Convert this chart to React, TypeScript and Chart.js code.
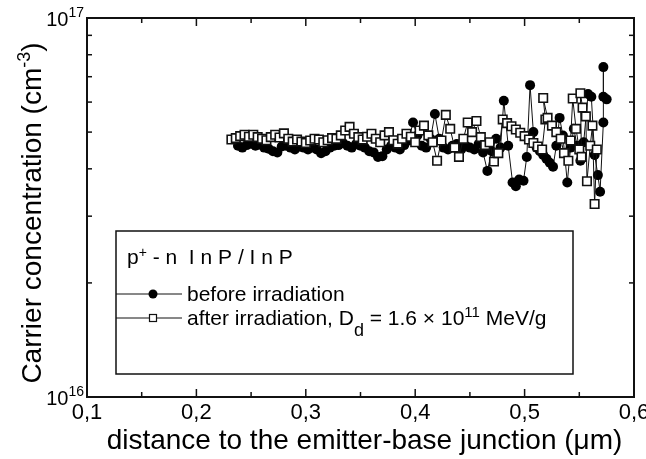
import React, { useEffect, useRef } from 'react';
import { Chart, registerables } from 'chart.js';

Chart.register(...registerables);

// before irradiation (filled circles), x in µm, y in units of 1e16 cm^-3
const xBefore = [
  0.238, 0.242, 0.246, 0.25, 0.254, 0.258, 0.262, 0.266, 0.27, 0.274,
  0.278, 0.282, 0.286, 0.29, 0.294, 0.298, 0.302, 0.306, 0.31, 0.314,
  0.318, 0.322, 0.326, 0.33, 0.334, 0.338, 0.342, 0.346, 0.35, 0.354,
  0.358, 0.362, 0.366, 0.37, 0.374, 0.378, 0.382, 0.386, 0.39, 0.394,
  0.398, 0.402, 0.406, 0.41, 0.414, 0.418, 0.422, 0.426, 0.43, 0.434,
  0.438, 0.442, 0.446, 0.45, 0.454, 0.458, 0.462,
  0.466, 0.47, 0.474, 0.478, 0.481, 0.485, 0.489, 0.492, 0.495, 0.499,
  0.502, 0.505, 0.508, 0.511, 0.514, 0.517, 0.52, 0.523, 0.526, 0.529,
  0.532, 0.535, 0.539, 0.542, 0.545, 0.548, 0.551, 0.554, 0.558, 0.561,
  0.564, 0.567, 0.569, 0.572, 0.572, 0.572, 0.575,
];
const yBefore = [
  4.6, 4.55, 4.62, 4.66, 4.6, 4.64, 4.55, 4.52, 4.45, 4.42,
  4.58, 4.6, 4.55, 4.5, 4.58, 4.55, 4.5, 4.55, 4.5, 4.4,
  4.45, 4.55, 4.6, 4.62, 4.68, 4.6, 4.55, 4.65, 4.6, 4.55,
  4.45, 4.42, 4.3, 4.32, 4.5, 4.6, 4.55, 4.5, 4.62, 4.75,
  5.3, 4.9, 4.6, 4.55, 4.8, 5.58, 4.8, 4.55, 4.5, 4.6,
  4.65, 4.5, 4.6, 4.55, 4.5, 4.65, 4.42,
  3.95, 4.45, 4.8, 4.55, 6.05, 4.6, 3.68, 3.6, 3.75, 3.72,
  4.3, 6.65, 5.0, 4.55, 4.45, 4.35, 4.25, 4.15, 4.05, 4.6,
  5.45, 4.9, 3.68, 4.55, 5.1, 4.6, 4.2, 4.7, 6.3, 6.2,
  4.35, 3.85, 3.48, 5.3, 7.42, 6.2, 6.1,
];

// after irradiation (open squares)
const xAfter = [
  0.232, 0.236, 0.24, 0.244, 0.248, 0.252, 0.256, 0.26, 0.264, 0.268,
  0.272, 0.276, 0.28, 0.284, 0.288, 0.292, 0.296, 0.3, 0.304, 0.308,
  0.312, 0.316, 0.32, 0.324, 0.328, 0.332, 0.336, 0.34, 0.344, 0.348,
  0.352, 0.356, 0.36, 0.364, 0.368, 0.372, 0.376, 0.38, 0.384, 0.388,
  0.392, 0.396, 0.4, 0.404, 0.408, 0.412, 0.416, 0.42, 0.424, 0.428,
  0.432, 0.436, 0.44, 0.444, 0.448, 0.452, 0.456, 0.46, 0.464, 0.468,
  0.472, 0.476,
  0.48, 0.484, 0.488, 0.492, 0.496, 0.5, 0.504, 0.508, 0.512, 0.516,
  0.519, 0.517, 0.521, 0.525, 0.529, 0.533, 0.536, 0.54, 0.542, 0.544,
  0.547, 0.55, 0.552, 0.551, 0.553, 0.556, 0.557, 0.56, 0.562, 0.564,
  0.566,
];
const yAfter = [
  4.78, 4.82, 4.88, 4.92, 4.86, 4.92, 4.85, 4.8, 4.76, 4.85,
  4.92, 4.84, 4.96, 4.8, 4.72, 4.78, 4.72, 4.68, 4.75, 4.8,
  4.78, 4.7, 4.76, 4.82, 4.8, 4.9, 5.05, 5.16, 4.95, 4.85,
  4.78, 4.86, 4.95, 4.8, 4.7, 4.9, 5.0, 4.76, 4.66, 4.8,
  4.95, 4.86, 4.7, 5.05, 5.2, 4.9, 4.7, 4.2, 4.75, 5.55,
  5.1, 4.55, 4.3, 4.8, 5.3, 5.0, 5.35, 4.85, 4.62, 4.7,
  4.18, 4.4,
  5.4, 5.28, 5.18, 5.08, 4.98, 4.88, 4.78, 4.68, 4.58, 4.5,
  5.4, 6.15, 5.45, 5.2, 5.0, 4.8, 4.4, 4.2, 4.75, 6.13,
  5.1, 4.5, 4.3, 6.33, 5.8, 5.5, 3.71, 4.6, 5.2, 3.23,
  4.5,
];

const yUnit = 1e16;
const xMajorTicks = [0.1, 0.2, 0.3, 0.4, 0.5, 0.6];
const xTickLabels = ['0,1', '0,2', '0,3', '0,4', '0,5', '0,6'];
const xMinorTicks = [0.15, 0.25, 0.35, 0.45, 0.55];
const yMajorTicks = [1e16, 1e17];
const yTickExponents = ['16', '17'];
const yMinorTicks = [2e16, 3e16, 4e16, 5e16, 6e16, 7e16, 8e16, 9e16];

const xTitle = 'distance to the emitter-base junction (\u03bcm)';
const yTitleMain = 'Carrier concentration (cm';
const yTitleSup = '-3';
const legendHeader = ['p', '+', ' - n  I n P / I n P'];
const labelBefore = 'before irradiation';
const labelAfter = ['after irradiation, D', 'd', ' = 1.6 \u00d7 10', '11', ' MeV/g'];

const FONT = '"Liberation Sans", Arial, Helvetica, sans-serif';

const decoPlugin = {
  id: 'deco',
  afterDraw(chart: any) {
    const { ctx, chartArea: a, scales } = chart;
    const xs = scales.x;
    const ys = scales.y;
    ctx.save();
    ctx.strokeStyle = '#111';
    ctx.fillStyle = '#000';

    // frame
    ctx.lineWidth = 2;
    ctx.strokeRect(a.left, a.top, a.right - a.left, a.bottom - a.top);

    // ticks (inward, on all four sides)
    ctx.lineWidth = 1.5;
    const line = (x1: number, y1: number, x2: number, y2: number) => {
      ctx.beginPath();
      ctx.moveTo(x1, y1);
      ctx.lineTo(x2, y2);
      ctx.stroke();
    };
    xMajorTicks.forEach((v) => {
      const p = xs.getPixelForValue(v);
      line(p, a.bottom, p, a.bottom - 8);
      line(p, a.top, p, a.top + 8);
    });
    xMinorTicks.forEach((v) => {
      const p = xs.getPixelForValue(v);
      line(p, a.bottom, p, a.bottom - 5);
      line(p, a.top, p, a.top + 5);
    });
    yMinorTicks.forEach((v) => {
      const p = ys.getPixelForValue(v);
      line(a.left, p, a.left + 5, p);
      line(a.right, p, a.right - 5, p);
    });

    // x tick labels
    ctx.font = `22px ${FONT}`;
    ctx.textAlign = 'center';
    ctx.textBaseline = 'alphabetic';
    xMajorTicks.forEach((v, i) => {
      ctx.fillText(xTickLabels[i], xs.getPixelForValue(v), a.bottom + 22);
    });

    // y tick labels 10^16, 10^17
    yMajorTicks.forEach((v, i) => {
      const p = ys.getPixelForValue(v);
      ctx.textAlign = 'left';
      ctx.font = `14px ${FONT}`;
      const ws = ctx.measureText(yTickExponents[i]).width;
      ctx.font = `20px ${FONT}`;
      const wb = ctx.measureText('10').width;
      const right = a.left - 3;
      const x0 = right - ws - wb;
      ctx.fillText('10', x0, p + 8);
      ctx.font = `14px ${FONT}`;
      ctx.fillText(yTickExponents[i], x0 + wb, p - 1);
    });

    // x title
    ctx.font = `28px ${FONT}`;
    ctx.textAlign = 'center';
    ctx.fillText(xTitle, (a.left + a.right) / 2 + 4, a.bottom + 52);

    // y title (rotated)
    ctx.save();
    ctx.translate(41, 213);
    ctx.rotate(-Math.PI / 2);
    ctx.textAlign = 'left';
    ctx.font = `28px ${FONT}`;
    const w1 = ctx.measureText(yTitleMain).width;
    const w3 = ctx.measureText(')').width;
    ctx.font = `18px ${FONT}`;
    const w2 = ctx.measureText(yTitleSup).width;
    let tx = -(w1 + w2 + w3) / 2;
    ctx.font = `28px ${FONT}`;
    ctx.fillText(yTitleMain, tx, 0);
    tx += w1;
    ctx.font = `18px ${FONT}`;
    ctx.fillText(yTitleSup, tx, -11);
    tx += w2;
    ctx.font = `28px ${FONT}`;
    ctx.fillText(')', tx, 0);
    ctx.restore();

    // legend box
    const bx = 116, by = 231, bw = 457, bh = 143;
    ctx.fillStyle = '#fff';
    ctx.fillRect(bx, by, bw, bh);
    ctx.fillStyle = '#000';
    ctx.lineWidth = 1.5;
    ctx.strokeRect(bx, by, bw, bh);

    ctx.textAlign = 'left';
    // header
    let hx = 127;
    const hy = 264;
    ctx.font = `21px ${FONT}`;
    ctx.fillText(legendHeader[0], hx, hy);
    hx += ctx.measureText(legendHeader[0]).width;
    ctx.font = `14px ${FONT}`;
    ctx.fillText(legendHeader[1], hx, hy - 7);
    hx += ctx.measureText(legendHeader[1]).width;
    ctx.font = `21px ${FONT}`;
    ctx.fillText(legendHeader[2], hx, hy);

    // entry 1
    const r1 = 294;
    ctx.lineWidth = 1;
    line(bx, r1, bx + 66, r1);
    ctx.beginPath();
    ctx.arc(bx + 37, r1, 4.5, 0, Math.PI * 2);
    ctx.fill();
    ctx.font = `21px ${FONT}`;
    ctx.fillText(labelBefore, 187, r1 + 7);

    // entry 2
    const r2 = 318;
    line(bx, r2, bx + 66, r2);
    ctx.fillStyle = '#fff';
    ctx.fillRect(bx + 33.5, r2 - 3.5, 7, 7);
    ctx.fillStyle = '#000';
    ctx.lineWidth = 1.2;
    ctx.strokeRect(bx + 33.5, r2 - 3.5, 7, 7);
    let ex = 187;
    const ey = r2 + 7;
    ctx.font = `21px ${FONT}`;
    ctx.fillText(labelAfter[0], ex, ey);
    ex += ctx.measureText(labelAfter[0]).width;
    ctx.font = `18px ${FONT}`;
    ctx.fillText(labelAfter[1], ex, ey + 11);
    ex += ctx.measureText(labelAfter[1]).width;
    ctx.font = `21px ${FONT}`;
    ctx.fillText(labelAfter[2], ex, ey);
    ex += ctx.measureText(labelAfter[2]).width;
    ctx.font = `15px ${FONT}`;
    ctx.fillText(labelAfter[3], ex, ey - 8);
    ex += ctx.measureText(labelAfter[3]).width;
    ctx.font = `21px ${FONT}`;
    ctx.fillText(labelAfter[4], ex, ey);

    ctx.restore();
  },
};

export default function App() {
  const canvasRef = useRef<HTMLCanvasElement | null>(null);

  useEffect(() => {
    document.body.style.margin = '0';
    const canvas = canvasRef.current;
    if (!canvas) return;
    const before = xBefore.map((x, i) => ({ x, y: yBefore[i] * yUnit }));
    const after = xAfter.map((x, i) => ({ x, y: yAfter[i] * yUnit }));
    const chart = new Chart(canvas, {
      type: 'line',
      data: {
        datasets: [
          {
            label: 'after irradiation',
            data: after,
            order: 0,
            borderColor: '#111',
            borderWidth: 1,
            pointStyle: 'rect',
            pointRadius: 6,
            pointBackgroundColor: '#fff',
            pointBorderColor: '#111',
            pointBorderWidth: 1.6,
            tension: 0,
            fill: false,
          },
          {
            label: 'before irradiation',
            data: before,
            order: 1,
            borderColor: '#111',
            borderWidth: 1,
            pointStyle: 'circle',
            pointRadius: 5,
            pointBackgroundColor: '#000',
            pointBorderColor: '#000',
            pointBorderWidth: 0,
            tension: 0,
            fill: false,
          },
        ],
      },
      options: {
        responsive: false,
        animation: false,
        layout: { padding: { left: 87, right: 12, top: 18, bottom: 62 } },
        plugins: { legend: { display: false }, tooltip: { enabled: false } },
        scales: {
          x: { type: 'linear', min: 0.1, max: 0.6, display: false },
          y: { type: 'logarithmic', min: 1e16, max: 1e17, display: false },
        },
      },
      plugins: [decoPlugin],
    });
    return () => chart.destroy();
  }, []);

  return (
    <div style={{ width: 646, height: 459, background: '#fff' }}>
      <canvas ref={canvasRef} width={646} height={459} style={{ display: 'block' }} />
    </div>
  );
}
